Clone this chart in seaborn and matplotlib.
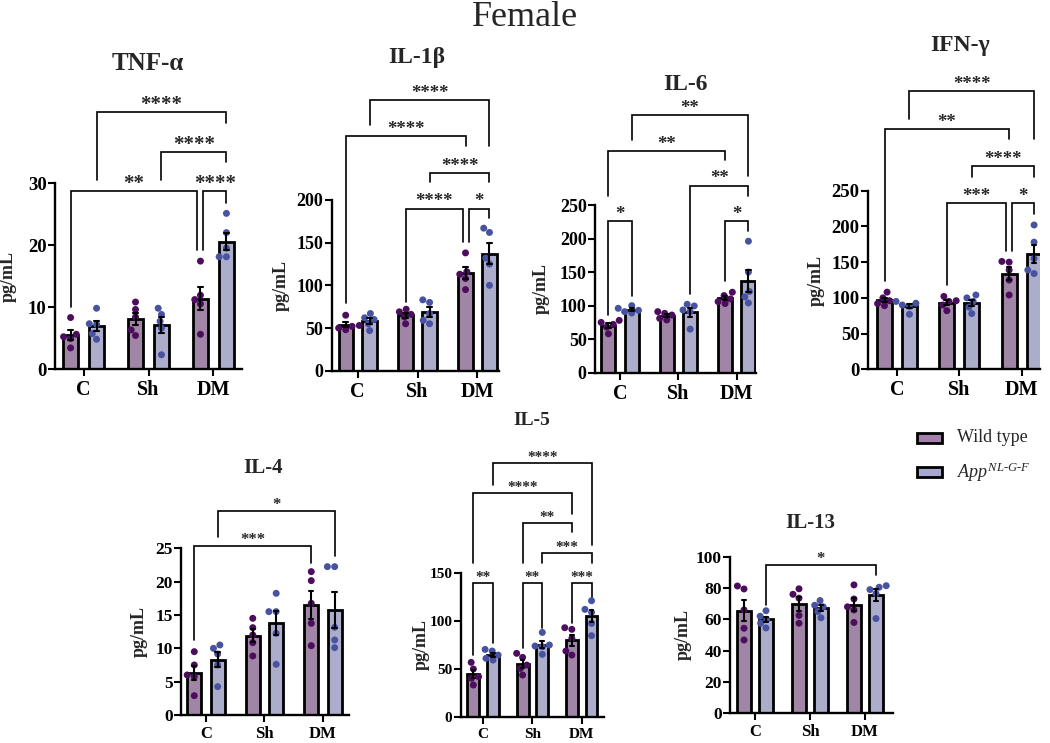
import numpy as np
import pandas as pd
import matplotlib
matplotlib.use("Agg")
import matplotlib.pyplot as plt
import seaborn as sns
from matplotlib.patches import Rectangle

# ---------------- data (pg/mL, 5 animals per group) ----------------
groups = ["C", "Sh", "DM"]
genotypes = ["Wild type", "App"]

tnf_wt = [[8.3, 5.6, 5.2, 4.9, 3.4], [10.8, 9.6, 8.4, 6.3, 5.4], [17.4, 11.9, 11.2, 10.5, 5.6]]
tnf_app = [[9.8, 7.3, 7.2, 5.7, 4.8], [9.8, 8.8, 7.7, 6.6, 2.3], [25.1, 22.0, 19.5, 18.1, 18.1]]
il1b_wt = [[65, 53, 52, 50, 48], [72, 69, 66, 63, 55], [138, 116, 113, 108, 95]]
il1b_app = [[67, 62, 60, 55, 47], [83, 80, 67, 59, 55], [167, 162, 132, 125, 100]]
il6_wt = [[78, 75, 72, 68, 58], [91, 88.5, 86, 81, 78.6], [120, 115, 110, 106, 103]]
il6_app = [[100, 96, 93, 91, 89], [102, 99.5, 93.5, 91, 65], [196, 150, 121, 113, 104]]
ifng_wt = [[108, 100, 96, 92, 89], [102, 96, 95, 90, 82], [151, 150, 139, 125, 104]]
ifng_app = [[95, 92.5, 90, 88, 77], [104, 100, 95, 87, 78], [202, 178, 155, 139, 134]]
il4_wt = [[9.5, 7.5, 6.0, 5.75, 2.9], [14.5, 13.1, 12.0, 10.85, 8.85], [21.5, 20.15, 16.75, 13.75, 10.4]]
il4_app = [[10.5, 10.0, 9.15, 7.5, 4.25], [18.25, 15.5, 15.5, 12.25, 7.6], [22.25, 22.25, 13.15, 11.25, 10.1]]
il5_wt = [[56.6, 49.7, 41.7, 40, 33], [66, 61.8, 53.8, 50.3, 43.4], [92.7, 91, 81.6, 68.4, 64.2]]
il5_app = [[70.1, 68.4, 64.2, 60.8, 59], [87.8, 74.7, 73.6, 72.9, 64.9], [120.8, 111.8, 108.7, 97.2, 84.4]]
il13_wt = [[81.3, 79.4, 66, 54.3, 46.8], [79.5, 76, 73.5, 62.5, 57.5], [82, 73, 68, 66, 58]]
il13_app = [[65.5, 62, 60, 57.5, 54.5], [72, 69, 68, 65, 61], [81.5, 80.5, 79, 76.5, 60.5]]

# ---------------- style ----------------
sns.set_style("ticks")
plt.rcParams["font.family"] = ["Liberation Serif", "DejaVu Serif"]
plt.rcParams["font.weight"] = "bold"
plt.rcParams["axes.labelweight"] = "bold"
plt.rcParams["mathtext.fontset"] = "custom"
plt.rcParams["mathtext.it"] = "Liberation Serif:style=italic:weight=normal"
plt.rcParams["mathtext.rm"] = "Liberation Serif:weight=normal"

bar_pal = {"Wild type": "#a57fac", "App": "#a6a8d0"}
dot_pal = {"Wild type": "#4b0d5c", "App": "#4752a0"}

W, H = 1050, 743
fig = plt.figure(figsize=(W / 100, H / 100), dpi=100)


def to_df(wt, app):
    rows = []
    for gi, g in enumerate(groups):
        for v in wt[gi]:
            rows.append((g, "Wild type", v))
        for v in app[gi]:
            rows.append((g, "App", v))
    return pd.DataFrame(rows, columns=["group", "geno", "value"])


def xpos(k, d=0.0):
    return k // 2 + (-0.2 if k % 2 == 0 else 0.2) + d


panels = [
    dict(title="TNF-α", wt=tnf_wt, app=tnf_app, rect=(55, 242, 369, 183), ymax=30, step=10,
         xlim=(-0.44, 2.44), tpos=(148, 63), tsize=18, ylx=17, yfs=13.5, xfs=14.5, sfs=15,
         br=[(1, 5, 41.5, 30.5, 39.7, "****", 0, 0), (3, 5, 35.0, 30.5, 33.4, "****", 0, 0),
             (0, 4, 28.7, 10.0, 19.2, "**", 0, -0.05), (4, 5, 28.7, 19.2, 26.8, "****", 0.04, 0)]),
    dict(title="IL-1β", wt=il1b_wt, app=il1b_app, rect=(331.7, 499.3, 370.7, 200), ymax=200, step=50,
         xlim=(-0.434, 2.364), tpos=(417, 57), tsize=17, ylx=290, yfs=13, xfs=14.5, sfs=13.5,
         br=[(1, 5, 317, 288, 263, "****", 0, 0), (0, 4, 275, 79, 263, "****", 0, 0),
             (3, 5, 232, 221, 221, "****", 0, 0), (2, 4, 190, 80, 151, "****", 0, -0.05),
             (4, 5, 190, 151, 179, "*", 0.05, 0)]),
    dict(title="IL-6", wt=il6_wt, app=il6_app, rect=(595, 756, 372.7, 205), ymax=250, step=50,
         xlim=(-0.43, 2.33), tpos=(685, 85), tsize=17, ylx=550, yfs=13, xfs=14.5, sfs=13.5,
         br=[(1, 5, 383.7, 346.8, 293, "**", 0, 0), (0, 4, 330.3, 264, 317, "**", 0, 0),
             (3, 5, 279, 117.6, 264, "**", 0, 0), (0, 1, 225.7, 86, 114.6, "*", 0, 0),
             (4, 5, 225.7, 136, 210.8, "*", 0, 0)]),
    dict(title="IFN-γ", wt=ifng_wt, app=ifng_app, rect=(868, 1040, 369.3, 190.7), ymax=250, step=50,
         xlim=(-0.465, 2.295), tpos=(960, 46), tsize=17, ylx=825, yfs=13.5, xfs=14.5, sfs=13.5,
         br=[(1, 5, 389, 351, 321.7, "****", 0, 0), (0, 4, 336, 124, 321.7, "**", 0, 0),
             (3, 5, 284.3, 269.4, 269.4, "****", 0, 0), (2, 4, 232.2, 118, 166, "***", 0, -0.05),
             (4, 5, 232.2, 166, 218, "*", 0.05, 0)]),
    dict(title="IL-4", wt=il4_wt, app=il4_app, rect=(181, 349.3, 715, 548.3), ymax=25, step=5,
         xlim=(-0.427, 2.45), tpos=(263, 468), tsize=15, ylx=148, yfs=12.5, xfs=12, sfs=12,
         br=[(1, 5, 30.6, 26.7, 23.85, "*", 0, 0), (0, 4, 25.35, 11.25, 22.75, "***", 0, 0)]),
    dict(title="IL-5", wt=il5_wt, app=il5_app, rect=(460.7, 604, 716.7, 572.7), ymax=150, step=50,
         xlim=(-0.457, 2.453), tpos=(532, 420), tsize=14, ylx=430, yfs=11, xfs=11, sfs=11,
         br=[(1, 5, 264.6, 241.4, 178.9, "****", 0, 0), (0, 4, 232.7, 160.4, 211.1, "****", 0, 0),
             (2, 4, 201.5, 160.4, 192.7, "**", 0, 0), (3, 5, 170.8, 160.4, 160.4, "***", 0, 0),
             (0, 1, 139, 64.3, 76.5, "**", 0, 0), (2, 3, 139, 71.3, 92.1, "**", 0, 0),
             (4, 5, 139, 97.6, 125, "***", 0, 0)]),
    dict(title="IL-13", wt=il13_wt, app=il13_app, rect=(730, 893, 713.3, 556.7), ymax=100, step=20,
         xlim=(-0.455, 2.51), tpos=(810, 523), tsize=15, ylx=692, yfs=12.5, xfs=12, sfs=12,
         br=[(1, 5, 94.7, 69.1, 88.3, "*", 0, 0)]),
]

for p in panels:
    lpx, rpx, y0px, ytpx = p["rect"]
    ax = fig.add_axes([lpx / W, 1 - y0px / H, (rpx - lpx) / W, (y0px - ytpx) / H])
    df = to_df(p["wt"], p["app"])
    sns.barplot(data=df, x="group", y="value", hue="geno", order=groups, hue_order=genotypes,
                palette=bar_pal, errorbar="se", capsize=0.15, width=0.8, gap=0.4,
                err_kws={"color": "black", "linewidth": 1.5, "zorder": 4},
                edgecolor="black", linewidth=2, ax=ax, legend=False)
    sns.swarmplot(data=df, x="group", y="value", hue="geno", order=groups, hue_order=genotypes,
                  palette=dot_pal, dodge=True, size=5, linewidth=0, ax=ax, legend=False, zorder=3)
    for ln in ax.lines:
        ln.set_zorder(4)
    ax.set_xlim(*p["xlim"])
    ax.set_ylim(0, p["ymax"])
    ax.set_yticks(np.arange(0, p["ymax"] + 0.001, p["step"]))
    ax.set_xlabel("")
    ax.set_ylabel("pg/mL", fontsize=13, fontweight="bold")
    ax.yaxis.set_label_coords((p["ylx"] - lpx) / (rpx - lpx), 0.5)
    sns.despine(ax=ax)
    for s in ["left", "bottom"]:
        ax.spines[s].set_linewidth(1.7)
        ax.spines[s].set_color("black")
    ax.tick_params(axis="y", direction="out", length=5, width=1.5, labelsize=p["yfs"], colors="black", pad=1)
    ax.tick_params(axis="x", direction="out", length=5, width=1.5, labelsize=p["xfs"], colors="black", pad=3)
    for lab in ax.get_xticklabels() + ax.get_yticklabels():
        lab.set_fontweight("bold")
    for (k1, k2, y, y1, y2, txt, d1, d2) in p["br"]:
        x1, x2 = xpos(k1, d1), xpos(k2, d2)
        ax.plot([x1, x1, x2, x2], [y1, y, y, y2], color="black", lw=1.2, clip_on=False,
                solid_joinstyle="miter", zorder=5)
        ax.annotate(txt, xy=((x1 + x2) / 2, y), xytext=(0, 1.5), textcoords="offset points",
                    ha="center", va="baseline", fontsize=p["sfs"], fontweight="bold",
                    annotation_clip=False)
    fig.text(p["tpos"][0] / W, 1 - p["tpos"][1] / H, p["title"], ha="center", va="center",
             fontsize=p["tsize"], fontweight="bold")

# main title
fig.text(525 / W, 1 - 18 / H, "Female", ha="center", va="center", fontsize=26, fontweight="normal")

# legend
for (ytop, key, label) in [(433, "Wild type", "Wild type"),
                           (467, "App", r"$\mathit{App}^{\mathit{NL}\text{-}\mathit{G}\text{-}\mathit{F}}$")]:
    fig.add_artist(Rectangle((917 / W, 1 - (ytop + 10) / H), 25 / W, 10 / H, transform=fig.transFigure,
                             facecolor=bar_pal[key], edgecolor="black", linewidth=2))
    fig.text(957 / W, 1 - (ytop + 5) / H, label, ha="left", va="center", fontsize=13, fontweight="normal")

fig.savefig("out.png", dpi=100)
